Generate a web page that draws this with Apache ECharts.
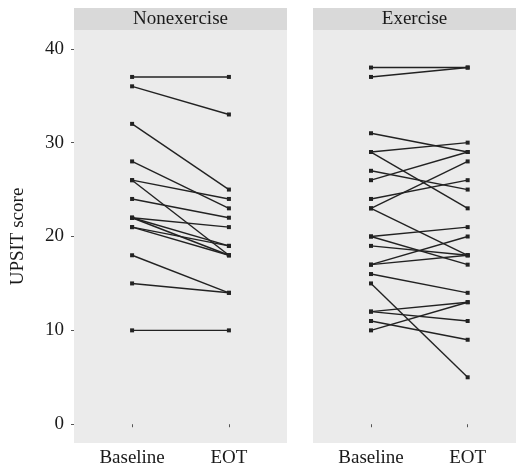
<!DOCTYPE html>
<html>
<head>
<meta charset="utf-8">
<script src="https://cdn.jsdelivr.net/npm/echarts@6/dist/echarts.min.js"></script>
<style>
  html, body { margin: 0; padding: 0; background: #fff; }
  #chart { width: 520px; height: 472px; }
</style>
</head>
<body>
<div id="chart"></div>
<script>
// --- data ---
var panels = ['Nonexercise', 'Exercise'];
var timeLabels = ['Baseline', 'EOT'];
var yTicks = [0, 10, 20, 30, 40];

var nonexBaseline = [37, 36, 32, 28, 26, 26, 24, 22, 22, 22, 21, 21, 18, 15, 10];
var nonexEOT      = [37, 33, 25, 23, 24, 18, 22, 21, 19, 18, 19, 18, 14, 14, 10];

var exBaseline = [38, 37, 31, 29, 29, 27, 26, 24, 23, 23, 20, 20, 19, 17, 17, 16, 15, 12, 12, 11, 10];
var exEOT      = [38, 38, 29, 30, 23, 25, 29, 26, 28, 18, 21, 17, 18, 20, 18, 14, 5, 13, 11, 9, 13];

(function() {
  var ink = '#222222';
  var panelBg = '#ebebeb';
  var stripBg = '#d9d9d9';
  var font = '"Liberation Serif", "DejaVu Serif", serif';

  var chart = echarts.init(document.getElementById('chart'), null, { renderer: 'canvas' });

  var grids = [
    { left: 74, top: 30, width: 213, height: 413, show: true, backgroundColor: panelBg, borderWidth: 0 },
    { left: 313, top: 30, width: 203, height: 413, show: true, backgroundColor: panelBg, borderWidth: 0 }
  ];

  function xAxis(i, max) {
    return {
      type: 'value', gridIndex: i, min: 0.4, max: max,
      axisLine: { show: false },
      splitLine: { show: false },
      axisTick: { show: true, length: 3, customValues: [1, 2], lineStyle: { color: '#555', width: 1 } },
      axisLabel: {
        customValues: [1, 2], margin: 6,
        color: '#1a1a1a', fontFamily: font, fontSize: 19,
        formatter: function(v) { return timeLabels[Math.round(v) - 1]; }
      }
    };
  }

  function yAxis(i, showLabels) {
    return {
      type: 'value', gridIndex: i, min: -2, max: 42,
      name: showLabels ? 'UPSIT score' : '',
      nameLocation: 'middle', nameGap: 46,
      nameTextStyle: { color: '#1a1a1a', fontFamily: font, fontSize: 19 },
      axisLine: { show: false },
      splitLine: { show: false },
      axisTick: { show: showLabels, length: 3, customValues: yTicks, lineStyle: { color: '#555', width: 1 } },
      axisLabel: {
        show: showLabels, customValues: yTicks, margin: 10,
        color: '#1a1a1a', fontFamily: font, fontSize: 19
      }
    };
  }

  var series = [];
  function addPanel(base, eot, idx) {
    for (var k = 0; k < base.length; k++) {
      series.push({
        type: 'line', xAxisIndex: idx, yAxisIndex: idx,
        data: [[1, base[k]], [2, eot[k]]],
        symbol: 'rect', symbolSize: 4, showSymbol: true,
        lineStyle: { color: ink, width: 1.4 },
        itemStyle: { color: ink },
        silent: true, z: 3
      });
    }
  }
  addPanel(nonexBaseline, nonexEOT, 0);
  addPanel(exBaseline, exEOT, 1);

  var graphics = [];
  grids.forEach(function(g, i) {
    graphics.push({
      type: 'rect', left: g.left, top: 8,
      shape: { width: g.width, height: 22 },
      style: { fill: stripBg }
    });
    graphics.push({
      type: 'text', x: g.left + g.width / 2, y: 19,
      style: {
        text: panels[i], fill: '#1a1a1a', font: '19px ' + font,
        textAlign: 'center', textVerticalAlign: 'middle'
      }
    });
  });

  chart.setOption({
    animation: false,
    grid: grids,
    xAxis: [xAxis(0, 2.6), xAxis(1, 2.5)],
    yAxis: [yAxis(0, true), yAxis(1, false)],
    series: series,
    graphic: graphics
  });
})();
</script>
</body>
</html>
